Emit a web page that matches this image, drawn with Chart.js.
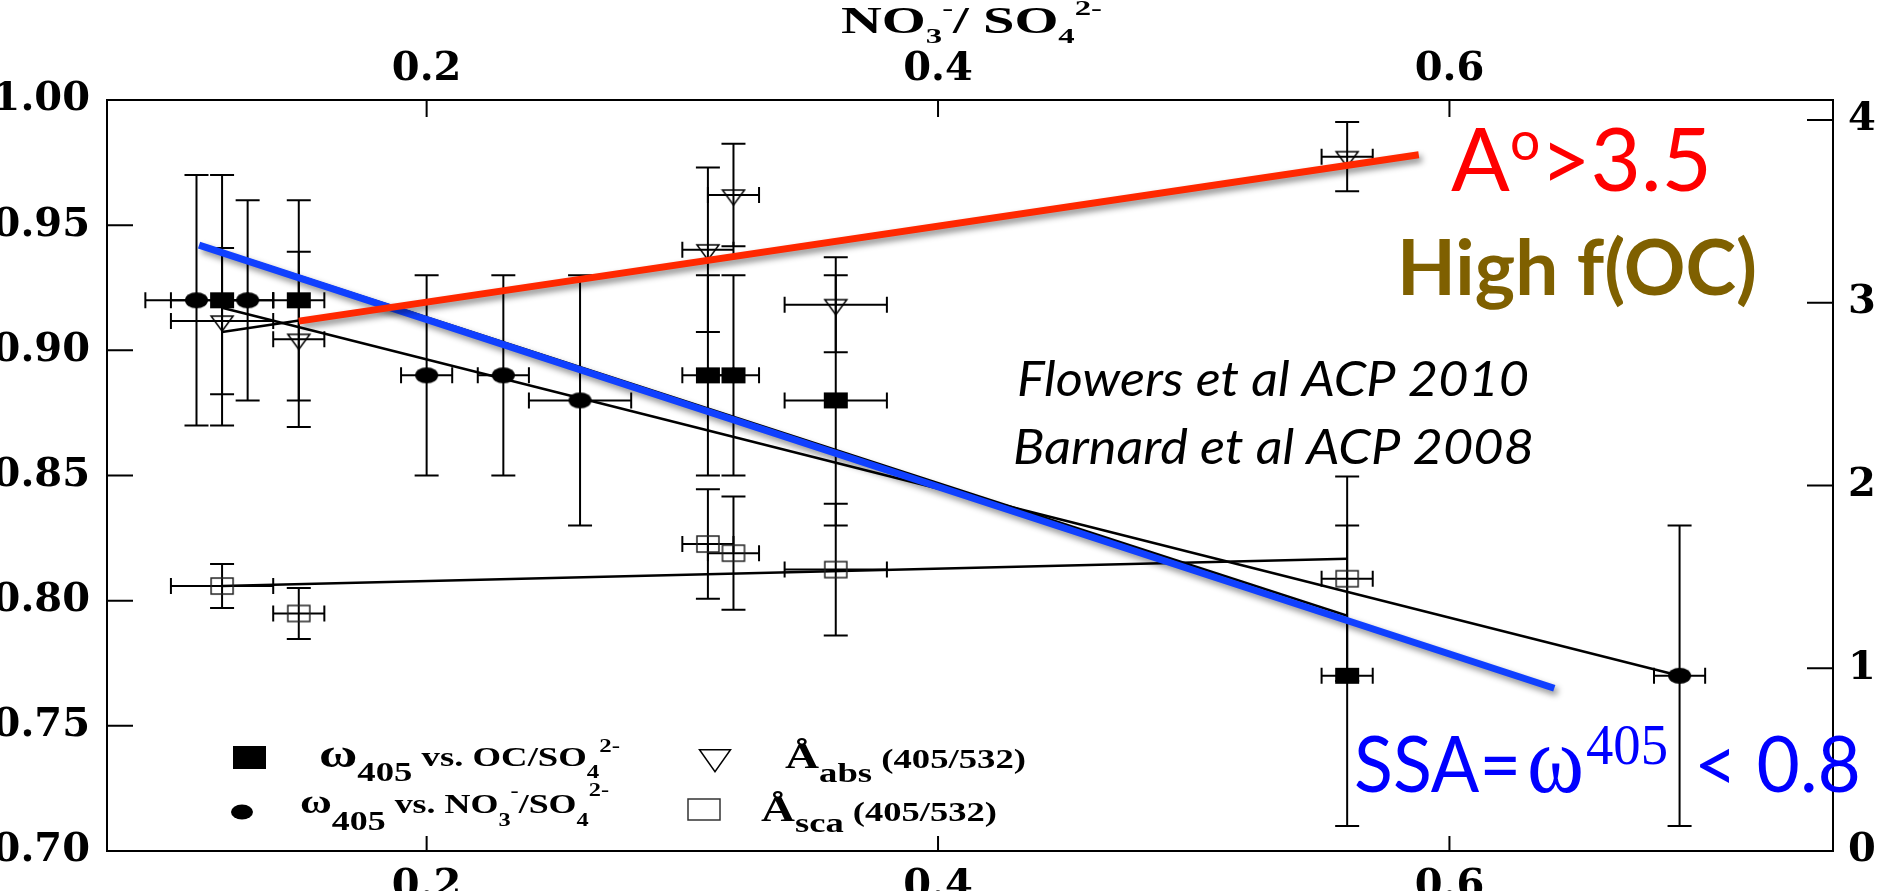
<!DOCTYPE html>
<html>
<head>
<meta charset="utf-8">
<title>SSA vs OC/SO4 and NO3/SO4</title>
<script src="https://cdn.jsdelivr.net/npm/chart.js@4.4.1/dist/chart.umd.min.js"></script>
<style>
  html, body { margin: 0; padding: 0; background: #fff; overflow: hidden; }
  canvas { display: block; }
</style>
</head>
<body>
<canvas id="ssa-chart" width="1884" height="892"></canvas>
<script>
// ---- data ----
// w405 vs OC/SO4 (filled squares, bottom axis, left scale)
const ocX    = [0.12, 0.15, 0.31, 0.32, 0.36, 0.56]
const ocW    = [0.92, 0.92, 0.89, 0.89, 0.88, 0.77]
const ocXErr = [0.02, 0.01, 0.01, 0.01, 0.02, 0.01]
const ocWErr = [0.05, 0.04, 0.04, 0.04, 0.05, 0.06]

// w405 vs NO3/SO4 (filled circles, top axis, left scale)
const noX    = [0.11, 0.13, 0.20, 0.23, 0.26, 0.69]
const noW    = [0.92, 0.92, 0.89, 0.89, 0.88, 0.77]
const noXErr = [0.02, 0.01, 0.01, 0.01, 0.02, 0.01]
const noWErr = [0.05, 0.04, 0.04, 0.04, 0.05, 0.06]

// Angstrom abs 405/532 (open triangles, right scale)
const absX    = [0.12, 0.15, 0.31, 0.32, 0.36, 0.56]
const absA    = [2.90, 2.80, 3.29, 3.59, 2.99, 3.80]
const absXErr = [0.02, 0.01, 0.01, 0.01, 0.02, 0.01]
const absAErr = [0.40, 0.48, 0.45, 0.28, 0.26, 0.19]

// Angstrom sca 405/532 (open squares, right scale)
const scaX    = [0.12, 0.15, 0.31, 0.32, 0.36, 0.56]
const scaA    = [1.45, 1.30, 1.68, 1.63, 1.54, 1.49]
const scaXErr = [0.02, 0.01, 0.01, 0.01, 0.02, 0.01]
const scaAErr = [0.12, 0.14, 0.30, 0.31, 0.36, 0.56]

// fitted lines (end points)
const ocFitX  = [0.125, 0.56], ocFitW  = [0.938, 0.794]
const noFitX  = [0.12, 0.69],  noFitW  = [0.917, 0.770]
const absFitX = [0.12, 0.56],  absFitA = [2.84, 3.76]
const scaFitX = [0.12, 0.56],  scaFitA = [1.45, 1.60]

// hand drawn highlight lines
const redX  = [0.150, 0.588], redA  = [2.90, 3.81]
const blueX = [0.111, 0.641], blueW = [0.942, 0.765]

// axes
const xTicks  = [0.2, 0.4, 0.6]
const yTicks  = [0.70, 0.75, 0.80, 0.85, 0.90, 0.95, 1.00]
const y2Ticks = [0, 1, 2, 3, 4]

const pts = (xs, ys) => xs.map((v, i) => ({x: v, y: ys[i]}))

// ---- marker images (plot is stretched sideways, so markers are wide) ----
function marker(w, h, draw) {
  const c = document.createElement('canvas')
  c.width = w + 4
  c.height = h + 4
  const g = c.getContext('2d')
  g.translate(2, 2)
  draw(g, w, h)
  return c
}
function triDown(g, x, y, w, h) { // x,y = centroid
  g.beginPath()
  g.moveTo(x - w / 2, y - h / 3)
  g.lineTo(x + w / 2, y - h / 3)
  g.lineTo(x, y + 2 * h / 3)
  g.closePath()
  g.stroke()
}
const fillSq  = marker(24, 16, (g, w, h) => { g.fillStyle = '#000'; g.fillRect(0, 0, w, h) })
const fillDot = marker(23, 16, (g, w, h) => {
  g.fillStyle = '#000'; g.beginPath(); g.ellipse(w / 2, h / 2, w / 2, h / 2, 0, 0, Math.PI * 2); g.fill()
})
const openTri = marker(22, 20, (g, w, h) => { g.strokeStyle = '#000'; g.lineWidth = 1.5; triDown(g, w / 2, h / 2, 22, 15) })
const openSq  = marker(22, 16, (g, w, h) => { g.strokeStyle = '#222'; g.lineWidth = 1.5; g.strokeRect(0, 0, w, h) })

// ---- plugins ----
const errorBars = {
  id: 'errorBars',
  beforeDatasetsDraw(chart) {
    const ctx = chart.ctx
    ctx.save()
    ctx.strokeStyle = '#000'
    ctx.lineWidth = 2
    chart.data.datasets.forEach(ds => {
      if (!ds.errX) return
      const xs = chart.scales[ds.xAxisID], ys = chart.scales[ds.yAxisID]
      ds.data.forEach((p, j) => {
        const px = xs.getPixelForValue(p.x), py = ys.getPixelForValue(p.y)
        const x0 = xs.getPixelForValue(p.x - ds.errX[j]), x1 = xs.getPixelForValue(p.x + ds.errX[j])
        const y0 = ys.getPixelForValue(p.y - ds.errY[j]), y1 = ys.getPixelForValue(p.y + ds.errY[j])
        ctx.beginPath()
        ctx.moveTo(px, y0); ctx.lineTo(px, y1)
        ctx.moveTo(px - 12, y0); ctx.lineTo(px + 12, y0)
        ctx.moveTo(px - 12, y1); ctx.lineTo(px + 12, y1)
        ctx.moveTo(x0, py); ctx.lineTo(x1, py)
        ctx.moveTo(x0, py - 8); ctx.lineTo(x0, py + 8)
        ctx.moveTo(x1, py - 8); ctx.lineTo(x1, py + 8)
        ctx.stroke()
      })
    })
    ctx.restore()
  }
}

const shadow = {
  id: 'shadow',
  beforeDatasetDraw(chart, args) {
    if (!chart.data.datasets[args.index].shadow) return
    const ctx = chart.ctx
    ctx.save()
    ctx.shadowColor = 'rgba(0,0,0,0.45)'
    ctx.shadowBlur = 6
    ctx.shadowOffsetX = 3
    ctx.shadowOffsetY = 4
  },
  afterDatasetDraw(chart, args) {
    if (chart.data.datasets[args.index].shadow) chart.ctx.restore()
  }
}

// tick marks point into the plot
const inTicks = {
  id: 'inTicks',
  afterDraw(chart) {
    const ctx = chart.ctx, a = chart.chartArea, s = chart.scales
    ctx.save()
    ctx.strokeStyle = '#000'
    ctx.lineWidth = 2
    ctx.beginPath()
    s.x.ticks.forEach(t => { const p = s.x.getPixelForValue(t.value); ctx.moveTo(p, a.bottom); ctx.lineTo(p, a.bottom - 15) })
    s.x2.ticks.forEach(t => { const p = s.x2.getPixelForValue(t.value); ctx.moveTo(p, a.top); ctx.lineTo(p, a.top + 17) })
    s.y.ticks.forEach(t => { const p = s.y.getPixelForValue(t.value); ctx.moveTo(a.left, p); ctx.lineTo(a.left + 26, p) })
    s.y2.ticks.forEach(t => { const p = s.y2.getPixelForValue(t.value); ctx.moveTo(a.right, p); ctx.lineTo(a.right - 26, p) })
    ctx.stroke()
    ctx.restore()
  }
}

// text with sub/superscripts, squeezed/stretched to a given width
function runs(ctx, parts, x, y, color, w) {
  let tot = 0
  parts.forEach(p => { ctx.font = p[1]; tot += ctx.measureText(p[0]).width })
  ctx.save()
  ctx.fillStyle = color
  ctx.textAlign = 'left'
  ctx.textBaseline = 'alphabetic'
  ctx.translate(x, y)
  if (w) ctx.scale(w / tot, 1)
  let cx = 0
  parts.forEach(p => {
    ctx.font = p[1]
    ctx.fillText(p[0], cx, p[2] || 0)
    cx += ctx.measureText(p[0]).width
  })
  ctx.restore()
}

const SB = n => `bold ${n}px "Liberation Serif"`
const notes = {
  id: 'notes',
  afterDraw(chart) {
    const ctx = chart.ctx
    // top axis title
    runs(ctx, [['NO', SB(38)], ['3', SB(22), 10], ['-', SB(22), -18], ['/ SO', SB(38)], ['4', SB(22), 10], ['2-', SB(22), -18]],
      841, 33, '#000', 261)

    // legend
    ctx.save()
    ctx.fillStyle = '#000'
    ctx.strokeStyle = '#000'
    ctx.fillRect(233, 746, 33, 23)
    ctx.beginPath(); ctx.ellipse(242, 812, 11, 7.5, 0, 0, Math.PI * 2); ctx.fill()
    ctx.lineWidth = 1.5
    triDown(ctx, 715, 757, 31, 22)
    ctx.strokeStyle = '#333'
    ctx.strokeRect(688, 799, 32, 21)
    ctx.restore()
    runs(ctx, [['ω', SB(40)], ['405', SB(28), 14], [' vs. OC/SO', SB(28), -1], ['4', SB(19), 11], ['2-', SB(19), -15]],
      319, 767, '#000', 301)
    runs(ctx, [['ω', SB(34)], ['405', SB(28), 17], [' vs. NO', SB(28)], ['3', SB(19), 13], ['-', SB(19), -16],
      ['/SO', SB(28)], ['4', SB(19), 13], ['2-', SB(19), -17]],
      300, 813, '#000', 309)
    runs(ctx, [['Å', SB(36)], ['abs', SB(28), 14], [' (405/532)', SB(28)]], 785, 768, '#000', 241)
    runs(ctx, [['Å', SB(36)], ['sca', SB(28), 11], [' (405/532)', SB(28)]], 761, 821, '#000', 236)

    // references
    runs(ctx, [['Flowers et al ACP 2010', 'italic 48px Lato']], 1017, 396, '#000', 512)
    runs(ctx, [['Barnard et al ACP 2008', 'italic 48px Lato']], 1013, 464, '#000', 521)

    // call-outs
    runs(ctx, [['A', '88px Lato'], ['o', '54px Lato', -31], ['>3.5', '88px Lato']], 1451, 191, '#ff0000', 261)
    runs(ctx, [['High f(OC)', 'bold 76px Lato']], 1397, 295, '#7f6000', 360)
    runs(ctx, [['SSA=', '77px Lato']], 1354, 792, '#0000ff', 167)
    runs(ctx, [['ω', '96px "Liberation Serif"']], 1527, 792, '#0000ff', 57)
    runs(ctx, [['405', '56px "Liberation Serif"']], 1586, 764, '#0000ff', 82)
    runs(ctx, [['< 0.8', '77px Lato']], 1694, 792, '#0000ff', 167)
  }
}

// ---- chart ----
const tickFont = {family: 'DejaVu Serif', weight: 'bold', size: 40}
function axis(position, min, max, ticks, size, pad, fmt) {
  const horiz = position === 'top' || position === 'bottom'
  return {
    type: 'linear', position: position, min: min, max: max,
    grid: {display: false, drawTicks: false},
    border: {display: true, color: '#000', width: 2},
    ticks: {font: tickFont, color: '#000', padding: pad, callback: fmt, maxRotation: 0, autoSkip: false},
    afterBuildTicks: s => { s.ticks = ticks.map(v => ({value: v})) },
    afterFit: s => { if (horiz) s.height = size; else s.width = size }
  }
}

const lineSet = (xs, ys, yAxis, color, width, order, extra) => Object.assign({
  data: pts(xs, ys), xAxisID: 'x', yAxisID: yAxis, showLine: true,
  borderColor: color, borderWidth: width, pointRadius: 0, order: order
}, extra || {})

const pointSet = (xs, ys, xAxis, yAxis, style, errX, errY) => ({
  data: pts(xs, ys), xAxisID: xAxis, yAxisID: yAxis, showLine: false,
  pointStyle: style, pointRadius: 6, errX: errX, errY: errY, order: 1
})

const chart = new Chart(document.getElementById('ssa-chart'), {
  type: 'scatter',
  data: {
    datasets: [
      lineSet(redX, redA, 'y2', '#ff2800', 7, 0, {shadow: true}),
      lineSet(blueX, blueW, 'y', '#1040ff', 7, 0, {shadow: true}),
      pointSet(ocX, ocW, 'x', 'y', fillSq, ocXErr, ocWErr),
      pointSet(noX, noW, 'x2', 'y', fillDot, noXErr, noWErr),
      pointSet(absX, absA, 'x', 'y2', openTri, absXErr, absAErr),
      pointSet(scaX, scaA, 'x', 'y2', openSq, scaXErr, scaAErr),
      lineSet(ocFitX, ocFitW, 'y', '#000', 2.5, 2),
      lineSet(noFitX, noFitW, 'y', '#000', 2.5, 2),
      lineSet(absFitX, absFitA, 'y2', '#000', 2.5, 2),
      lineSet(scaFitX, scaFitA, 'y2', '#000', 2.5, 2)
    ]
  },
  options: {
    responsive: false,
    animation: false,
    events: [],
    layout: {padding: 0},
    plugins: {legend: {display: false}, tooltip: {enabled: false}},
    scales: {
      x:  axis('bottom', 0.075, 0.75, xTicks, 40, 12, v => v.toFixed(1)),
      x2: axis('top', 0.075, 0.75, xTicks, 100, 6, v => v.toFixed(1)),
      y:  axis('left', 0.70, 1.00, yTicks, 107, 17, v => v.toFixed(2)),
      y2: axis('right', 0, 4.11, y2Ticks, 51, 15, v => v.toFixed(0))
    }
  },
  plugins: [errorBars, shadow, inTicks, notes]
})
</script>
</body>
</html>
